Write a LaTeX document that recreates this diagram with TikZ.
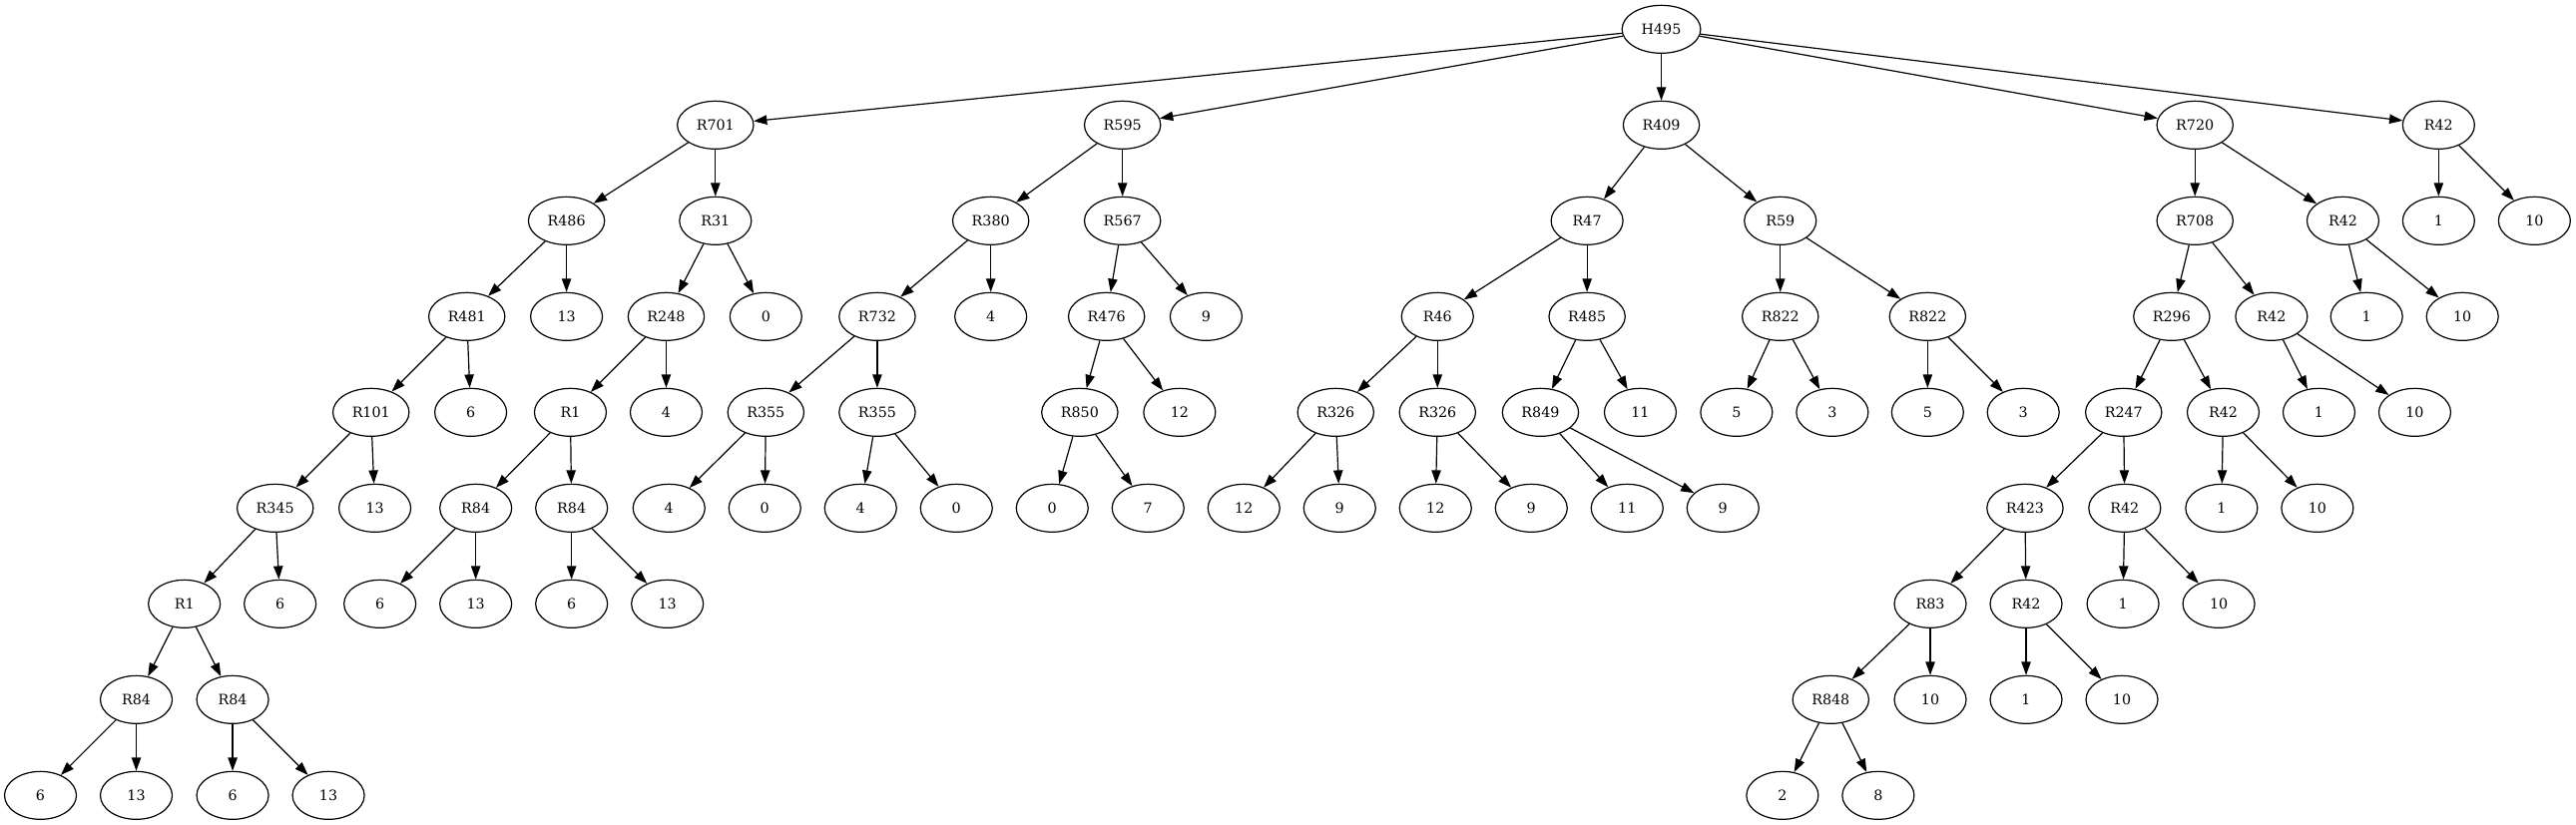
\documentclass[tikz,border=0pt]{standalone}
\usepackage{fontspec}
\setmainfont{DejaVu Serif}
\usetikzlibrary{shapes.geometric,arrows.meta}

\begin{document}
\begin{tikzpicture}[x=1pt, y=1pt,
    no/.style={draw, ellipse, line width=0.9pt, minimum width=54pt, minimum height=36pt,
               inner xsep=6pt, inner ysep=3pt, font=\fontsize{10.7}{12}\selectfont},
    seta/.style={-{Triangle[length=10pt,width=7pt]}, line width=0.9pt}]

    \useasboundingbox (0,0) rectangle (1935.75,-620.25);

    % Raiz
    \node[no] (h495) at (1248.4,-22) {H495};

    % Nível 1
    \node[no] (r701) at (537.6,-94) {R701};
    \node[no] (r595) at (843.5,-94) {R595};
    \node[no] (r409) at (1248.4,-94) {R409};
    \node[no] (r720) at (1649.4,-94) {R720};
    \node[no] (r42a) at (1832.5,-94) {R42};

    % Nível 2
    \node[no] (r486) at (425.7,-166) {R486};
    \node[no] (r31) at (537.6,-166) {R31};
    \node[no] (r380) at (744.5,-166) {R380};
    \node[no] (r567) at (843.5,-166) {R567};
    \node[no] (r47) at (1192.6,-166) {R47};
    \node[no] (r59) at (1337.8,-166) {R59};
    \node[no] (r708) at (1649.4,-166) {R708};
    \node[no] (r42b) at (1760.6,-166) {R42};
    \node[no] (n1a) at (1832.5,-166) {1};
    \node[no] (n10a) at (1904.5,-166) {10};

    % Nível 3
    \node[no] (r481) at (350.8,-238) {R481};
    \node[no] (n13a) at (425.7,-238) {13};
    \node[no] (r248) at (500.6,-238) {R248};
    \node[no] (n0a) at (575.5,-238) {0};
    \node[no] (r732) at (659.2,-238) {R732};
    \node[no] (n4a) at (744.5,-238) {4};
    \node[no] (r476) at (831.5,-238) {R476};
    \node[no] (n9a) at (906.3,-238) {9};
    \node[no] (r46) at (1080.2,-238) {R46};
    \node[no] (r485) at (1192.6,-238) {R485};
    \node[no] (r822a) at (1337.8,-238) {R822};
    \node[no] (r822b) at (1448.5,-238) {R822};
    \node[no] (r296) at (1631.9,-238) {R296};
    \node[no] (r42c) at (1706.9,-238) {R42};
    \node[no] (n1b) at (1778.4,-238) {1};
    \node[no] (n10b) at (1850.4,-238) {10};

    % Nível 4
    \node[no] (r101) at (278.8,-310) {R101};
    \node[no] (n6a) at (353.7,-310) {6};
    \node[no] (r1a) at (428.6,-310) {R1};
    \node[no] (n4b) at (500.6,-310) {4};
    \node[no] (r355a) at (575.5,-310) {R355};
    \node[no] (r355b) at (659.2,-310) {R355};
    \node[no] (r850) at (811.4,-310) {R850};
    \node[no] (n12a) at (886.4,-310) {12};
    \node[no] (r326a) at (1003.7,-310) {R326};
    \node[no] (r326b) at (1080.2,-310) {R326};
    \node[no] (r849) at (1157.6,-310) {R849};
    \node[no] (n11a) at (1232.6,-310) {11};
    \node[no] (n5a) at (1304.9,-310) {5};
    \node[no] (n3a) at (1376.9,-310) {3};
    \node[no] (n5b) at (1448.5,-310) {5};
    \node[no] (n3b) at (1520.4,-310) {3};
    \node[no] (r247) at (1595.8,-310) {R247};
    \node[no] (r42d) at (1670.6,-310) {R42};
    \node[no] (n1c) at (1742.6,-310) {1};
    \node[no] (n10c) at (1814.6,-310) {10};

    % Nível 5
    \node[no] (r345) at (206.8,-382) {R345};
    \node[no] (n13b) at (281.7,-382) {13};
    \node[no] (r84a) at (357.5,-382) {R84};
    \node[no] (r84b) at (429.5,-382) {R84};
    \node[no] (n4c) at (502.7,-382) {4};
    \node[no] (n0b) at (574.7,-382) {0};
    \node[no] (n4d) at (646.7,-382) {4};
    \node[no] (n0c) at (718.7,-382) {0};
    \node[no] (n0d) at (790.7,-382) {0};
    \node[no] (n7) at (862.7,-382) {7};
    \node[no] (n12b) at (934.7,-382) {12};
    \node[no] (n9b) at (1006.7,-382) {9};
    \node[no] (n12c) at (1078.7,-382) {12};
    \node[no] (n9c) at (1150.7,-382) {9};
    \node[no] (n11b) at (1222.7,-382) {11};
    \node[no] (n9d) at (1294.7,-382) {9};
    \node[no] (r423) at (1521.7,-382) {R423};
    \node[no] (r42e) at (1596.6,-382) {R42};
    \node[no] (n1d) at (1669.4,-382) {1};
    \node[no] (n10d) at (1741.4,-382) {10};

    % Nível 6
    \node[no] (r1b) at (138.5,-454) {R1};
    \node[no] (n6b) at (210.5,-454) {6};
    \node[no] (n6c) at (285.5,-454) {6};
    \node[no] (n13c) at (357.5,-454) {13};
    \node[no] (n6d) at (429.5,-454) {6};
    \node[no] (n13d) at (501.5,-454) {13};
    \node[no] (r83) at (1450.5,-454) {R83};
    \node[no] (r42f) at (1522.5,-454) {R42};
    \node[no] (n1e) at (1595.3,-454) {1};
    \node[no] (n10e) at (1667.3,-454) {10};

    % Nível 7
    \node[no] (r84c) at (102.4,-526) {R84};
    \node[no] (r84d) at (174.8,-526) {R84};
    \node[no] (r848) at (1375.7,-526) {R848};
    \node[no] (n10f) at (1450.5,-526) {10};
    \node[no] (n1f) at (1522.5,-526) {1};
    \node[no] (n10g) at (1594.5,-526) {10};

    % Nível 8
    \node[no] (n6e) at (30.4,-598) {6};
    \node[no] (n13e) at (102.4,-598) {13};
    \node[no] (n6f) at (174.8,-598) {6};
    \node[no] (n13f) at (246.8,-598) {13};
    \node[no] (n2) at (1339.4,-598) {2};
    \node[no] (n8) at (1411.4,-598) {8};

    % Arestas
    \draw[seta] (h495) edge (r701) edge (r595) edge (r409) edge (r720) edge (r42a);
    \draw[seta] (r701) edge (r486) edge (r31);
    \draw[seta] (r595) edge (r380) edge (r567);
    \draw[seta] (r409) edge (r47) edge (r59);
    \draw[seta] (r720) edge (r708) edge (r42b);
    \draw[seta] (r42a) edge (n1a) edge (n10a);
    \draw[seta] (r486) edge (r481) edge (n13a);
    \draw[seta] (r31) edge (r248) edge (n0a);
    \draw[seta] (r380) edge (r732) edge (n4a);
    \draw[seta] (r567) edge (r476) edge (n9a);
    \draw[seta] (r47) edge (r46) edge (r485);
    \draw[seta] (r59) edge (r822a) edge (r822b);
    \draw[seta] (r708) edge (r296) edge (r42c);
    \draw[seta] (r42b) edge (n1b) edge (n10b);
    \draw[seta] (r481) edge (r101) edge (n6a);
    \draw[seta] (r248) edge (r1a) edge (n4b);
    \draw[seta] (r732) edge (r355a) edge (r355b);
    \draw[seta] (r476) edge (r850) edge (n12a);
    \draw[seta] (r46) edge (r326a) edge (r326b);
    \draw[seta] (r485) edge (r849) edge (n11a);
    \draw[seta] (r822a) edge (n5a) edge (n3a);
    \draw[seta] (r822b) edge (n5b) edge (n3b);
    \draw[seta] (r296) edge (r247) edge (r42d);
    \draw[seta] (r42c) edge (n1c) edge (n10c);
    \draw[seta] (r101) edge (r345) edge (n13b);
    \draw[seta] (r1a) edge (r84a) edge (r84b);
    \draw[seta] (r355a) edge (n4c) edge (n0b);
    \draw[seta] (r355b) edge (n4d) edge (n0c);
    \draw[seta] (r850) edge (n0d) edge (n7);
    \draw[seta] (r326a) edge (n12b) edge (n9b);
    \draw[seta] (r326b) edge (n12c) edge (n9c);
    \draw[seta] (r849) edge (n11b) edge (n9d);
    \draw[seta] (r247) edge (r423) edge (r42e);
    \draw[seta] (r42d) edge (n1d) edge (n10d);
    \draw[seta] (r345) edge (r1b) edge (n6b);
    \draw[seta] (r84a) edge (n6c) edge (n13c);
    \draw[seta] (r84b) edge (n6d) edge (n13d);
    \draw[seta] (r423) edge (r83) edge (r42f);
    \draw[seta] (r42e) edge (n1e) edge (n10e);
    \draw[seta] (r1b) edge (r84c) edge (r84d);
    \draw[seta] (r83) edge (r848) edge (n10f);
    \draw[seta] (r42f) edge (n1f) edge (n10g);
    \draw[seta] (r84c) edge (n6e) edge (n13e);
    \draw[seta] (r84d) edge (n6f) edge (n13f);
    \draw[seta] (r848) edge (n2) edge (n8);

\end{tikzpicture}
\end{document}
